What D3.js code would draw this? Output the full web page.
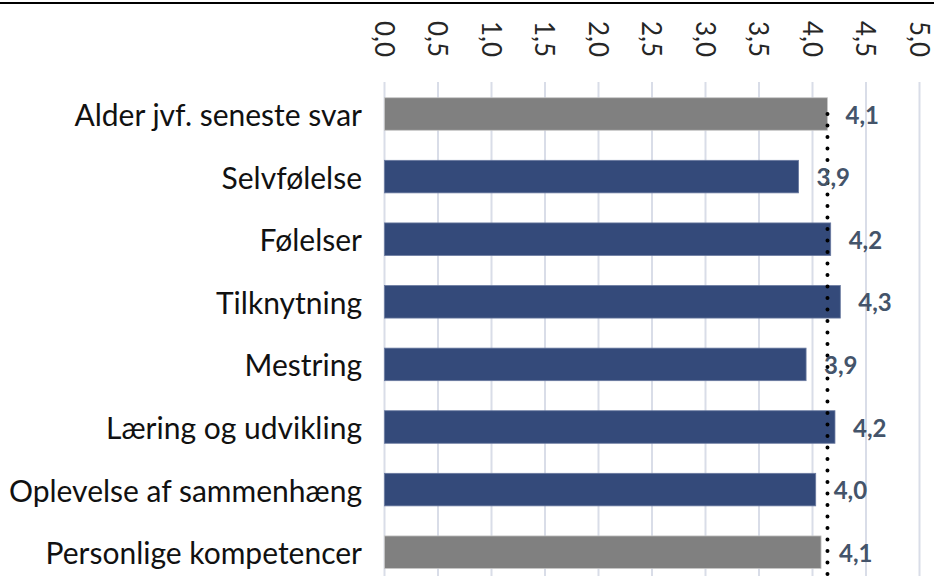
<!DOCTYPE html>
<meta charset="utf-8">
<style>
  body { margin: 0; background: #fff; }
  svg { display: block; }
</style>
<script src="https://d3js.org/d3.v7.min.js"></script>
<div id="chart"></div>
<script>

// data
var categories = ["Alder jvf. seneste svar", "Selvfølelse", "Følelser", "Tilknytning",
                  "Mestring", "Læring og udvikling", "Oplevelse af sammenhæng", "Personlige kompetencer"];
var values = [4.14, 3.87, 4.17, 4.26, 3.94, 4.21, 4.03, 4.08];
var labels = ["4,1", "3,9", "4,2", "4,3", "3,9", "4,2", "4,0", "4,1"];
var grey = [true, false, false, false, false, false, false, true];
var ticks = [0, 0.5, 1, 1.5, 2, 2.5, 3, 3.5, 4, 4.5, 5];
var reference = 4.14;

var width = 934, height = 576;
var font = "Lato, Liberation Sans, Arial, sans-serif";

var svg = d3.select("#chart")
  .append("svg")
    .attr("width", width)
    .attr("height", height);

var x = d3.scaleLinear()
  .domain([0, 5])
  .range([384.5, 919.5]);

var y = d3.scaleBand()
  .domain(categories)
  .range([82.7, 583.5])
  .paddingInner(0.48)
  .paddingOuter(0.24);

// top border line
svg.append("line")
  .attr("x1", 0).attr("x2", width)
  .attr("y1", 3).attr("y2", 3)
  .attr("stroke", "#000")
  .attr("stroke-width", 2);

// gridlines
svg.selectAll(".grid")
  .data(ticks)
  .enter()
  .append("line")
    .attr("x1", d => x(d)).attr("x2", d => x(d))
    .attr("y1", 82).attr("y2", height)
    .attr("stroke", "#d9dde8")
    .attr("stroke-width", 2);

// tick labels, rotated
svg.selectAll(".tick")
  .data(ticks)
  .enter()
  .append("text")
    .attr("transform", d => "translate(" + x(d) + ",21) rotate(90)")
    .attr("dominant-baseline", "central")
    .attr("font-family", font)
    .attr("font-size", 26)
    .attr("fill", "#262626")
    .text(d => d3.format(".1f")(d).replace(".", ","));

// bars
svg.selectAll(".bar")
  .data(categories)
  .enter()
  .append("rect")
    .attr("x", x(0))
    .attr("y", d => y(d))
    .attr("width", (d, i) => x(values[i]) - x(0))
    .attr("height", y.bandwidth())
    .attr("fill", (d, i) => grey[i] ? "#808080" : "#344a7a")
    .attr("stroke", (d, i) => grey[i] ? "#c8c8c8" : "#6a7aa0")
    .attr("stroke-width", 0.8);

// category labels
svg.selectAll(".cat")
  .data(categories)
  .enter()
  .append("text")
    .attr("x", 362)
    .attr("y", d => y(d) + y.bandwidth() / 2)
    .attr("text-anchor", "end")
    .attr("dominant-baseline", "central")
    .attr("font-family", font)
    .attr("font-size", 30)
    .attr("fill", "#111")
    .text(d => d);

// dotted reference line
svg.append("line")
  .attr("x1", x(reference)).attr("x2", x(reference))
  .attr("y1", y(categories[0]) + y.bandwidth() / 2)
  .attr("y2", height)
  .attr("stroke", "#000")
  .attr("stroke-width", 4)
  .attr("stroke-linecap", "round")
  .attr("stroke-dasharray", "0 11.5");

// value labels
svg.selectAll(".val")
  .data(categories)
  .enter()
  .append("text")
    .attr("x", (d, i) => x(values[i]) + 18)
    .attr("y", d => y(d) + y.bandwidth() / 2)
    .attr("dominant-baseline", "central")
    .attr("font-family", font)
    .attr("font-weight", "bold")
    .attr("font-size", 24)
    .attr("fill", "#44546a")
    .text((d, i) => labels[i]);

</script>
